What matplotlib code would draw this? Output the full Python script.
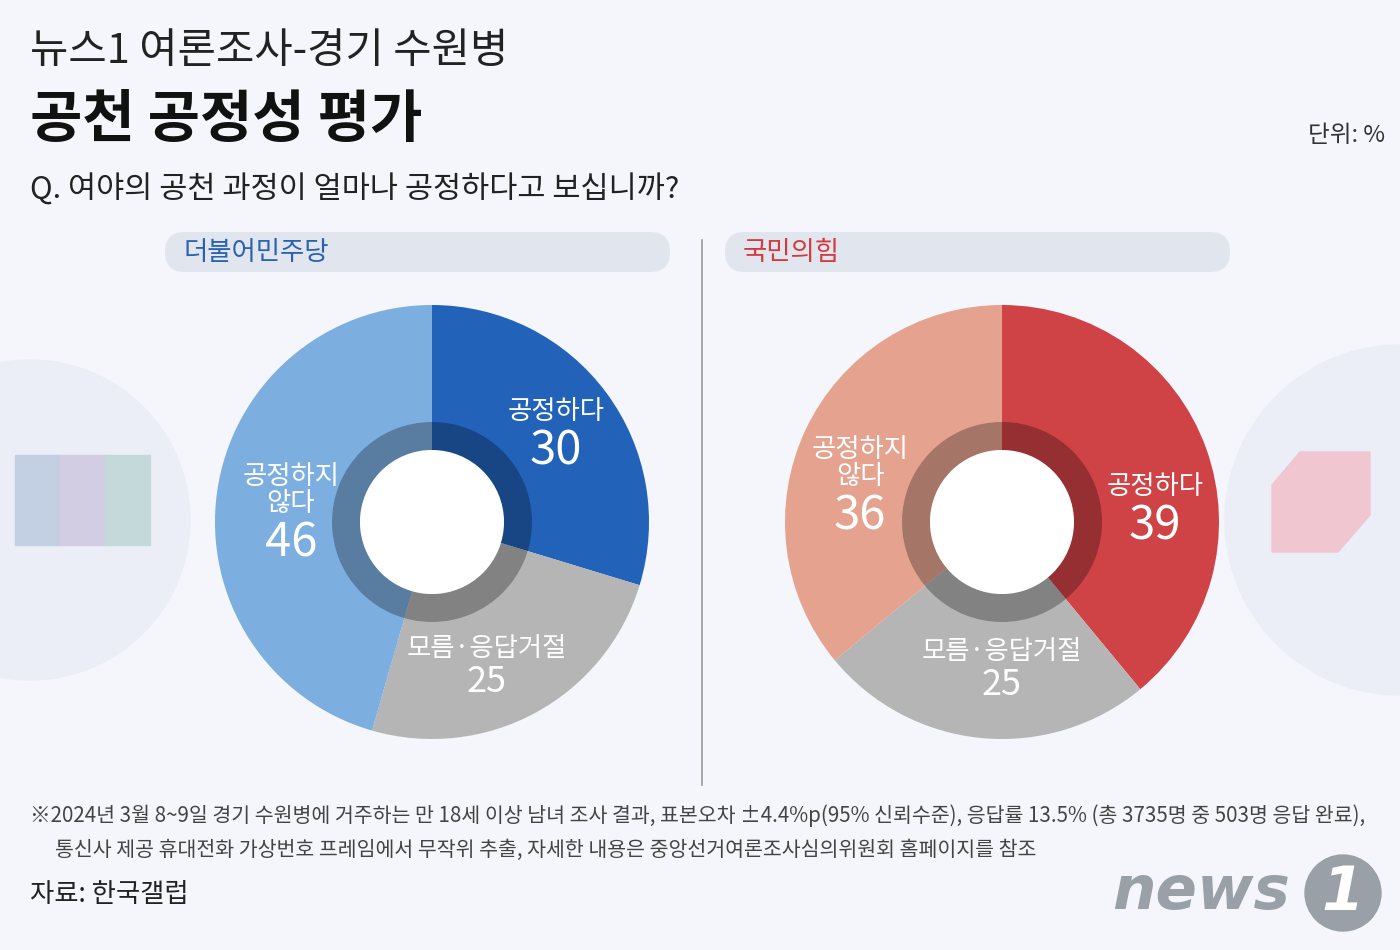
import matplotlib
matplotlib.use("Agg")
import matplotlib.pyplot as plt
from matplotlib import font_manager as fm
from matplotlib.patches import Wedge, FancyBboxPatch, Circle, Polygon, Rectangle

names = sorted({f.name for f in fm.fontManager.ttflist if "CJK" in f.name})
pref = [n for n in ["Noto Sans CJK KR", "Noto Sans CJK JP", "Noto Sans CJK SC"] if n in names] + names
plt.rcParams["font.family"] = (pref[:1] if pref else []) + ["DejaVu Sans"]

parties = ["더불어민주당", "국민의힘"]
categories = ["공정하다", "모름·응답거절", "공정하지\n않다"]
dem_values = [30, 25, 46]
ppp_values = [39, 25, 36]
dem_colors = ["#2262b9", "#b5b5b5", "#7caee0"]
ppp_colors = ["#cf4245", "#b5b5b5", "#e5a38f"]

fig = plt.figure(figsize=(14, 9.5), dpi=100)
fig.patch.set_facecolor("#f4f6fb")
ax = fig.add_axes([0, 0, 1, 1])
ax.set_xlim(0, 1400); ax.set_ylim(950, 0); ax.axis("off")

ax.add_patch(Circle((30, 520), 160, color="#ebeef6", zorder=0))
ax.add_patch(Circle((1400, 520), 175, color="#ebeef6", zorder=0))
for i, c in enumerate(["#c3cfe3", "#d3cde3", "#c4dada"]):
    ax.add_patch(Rectangle((15 + i * 45, 455), 45, 90, color=c, zorder=1))
ax.add_patch(Polygon([(1272, 485), (1300, 452), (1370, 452), (1370, 515), (1338, 552), (1272, 552)], color="#f0c6d0", zorder=1))

ax.text(30, 52, "뉴스1 여론조사-경기 수원병", fontsize=30, va="center", color="#222")
ax.text(30, 120, "공천 공정성 평가", fontsize=41, fontweight="bold", va="center", color="#111")
ax.text(1385, 135, "단위: %", fontsize=17, ha="right", va="center", color="#333")
ax.text(30, 190, "Q. 여야의 공천 과정이 얼마나 공정하다고 보십니까?", fontsize=22, va="center", color="#222")

ax.plot([702, 702], [240, 785], color="#999", lw=1.2)

def donut(cx, values, colors, name, namecolor, px, label_pos):
    ax.add_patch(FancyBboxPatch((px, 232), 505, 40, boxstyle="round,pad=0,rounding_size=20", color="#e1e5ed", lw=0))
    ax.text(px + 18, 252, name, fontsize=19, va="center", color=namecolor)
    cy, R = 522, 217
    total = sum(values)
    start = 90
    for v, c in zip(values, colors):
        ang = 360 * v / total
        # y axis is inverted, so negate angles to go clockwise on screen
        ax.add_patch(Wedge((cx, cy), R, -start, -(start - ang), color=c, lw=0))
        start -= ang
    ax.add_patch(Wedge((cx, cy), 100, 0, 360, width=28, color="black", alpha=0.28, lw=0))
    ax.add_patch(Circle((cx, cy), 72, color="white", lw=0))
    for (cat, v, (lx, ly)) in zip(categories, values, label_pos):
        ax.text(lx, ly, cat, fontsize=19, ha="center", va="bottom", color="white", linespacing=1.0)
        ax.text(lx, ly + 2, str(v), fontsize=34 if cat != "모름·응답거절" else 26, ha="center", va="top", color="white")

donut(432, dem_values, dem_colors, "더불어민주당", "#2a62b3", 165,
      [(556, 425), (487, 662), (291, 517)])
donut(1002, ppp_values, ppp_colors, "국민의힘", "#d23a3e", 725,
      [(1155, 500), (1002, 665), (860, 490)])

ax.text(30, 816, "※2024년 3월 8~9일 경기 수원병에 거주하는 만 18세 이상 남녀 조사 결과, 표본오차 ±4.4%p(95% 신뢰수준), 응답률 13.5% (총 3735명 중 503명 응답 완료),",
        fontsize=14.8, va="center", color="#444")
ax.text(55, 850, "통신사 제공 휴대전화 가상번호 프레임에서 무작위 추출, 자세한 내용은 중앙선거여론조사심의위원회 홈페이지를 참조",
        fontsize=14.8, va="center", color="#444")
ax.text(30, 895, "자료: 한국갤럽", fontsize=19, va="center", color="#222")
ax.text(1290, 893, "news", fontsize=44, fontweight="bold", style="italic", ha="right", va="center", color="#9aa0a8", family="DejaVu Sans")
ax.add_patch(Circle((1343, 893), 38, color="#9aa0a8"))
ax.text(1343, 893, "1", fontsize=44, fontweight="bold", style="italic", ha="center", va="center", color="white", family="DejaVu Sans")

fig.savefig("out.png", dpi=100, facecolor=fig.get_facecolor())
